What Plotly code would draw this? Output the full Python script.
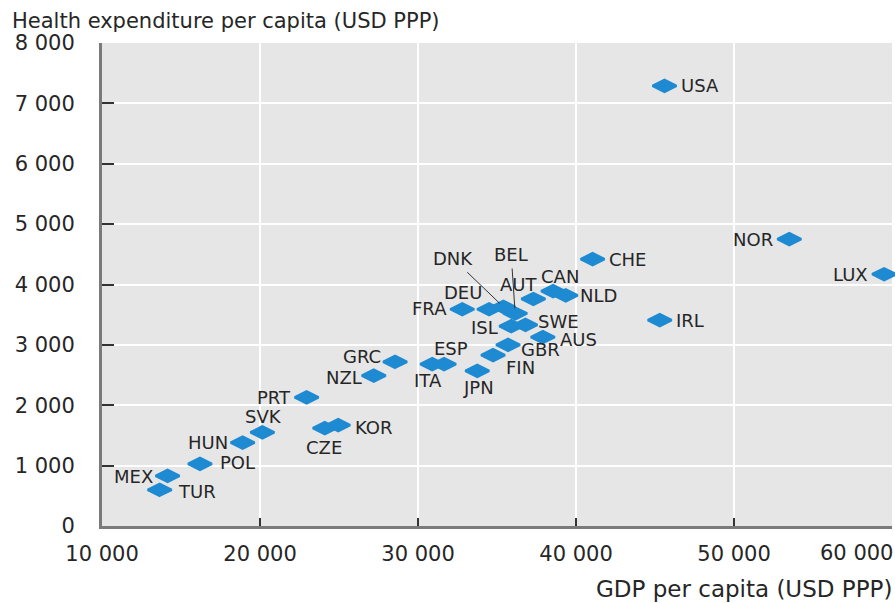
import plotly.graph_objects as go

countries = ["USA", "NOR", "LUX", "CHE", "IRL", "NLD", "CAN", "AUT", "DEU", "FRA",
             "DNK", "BEL", "ISL", "SWE", "AUS", "GBR", "FIN", "JPN", "ESP", "ITA",
             "GRC", "NZL", "PRT", "SVK", "HUN", "POL", "MEX", "TUR", "CZE", "KOR"]
gdp_per_capita = [45600, 53500, 59500, 41050, 45300, 39350, 38550, 37300, 34500, 32800,
                  35400, 36150, 35900, 36800, 37900, 35700, 34750, 33750, 31650, 30900,
                  28550, 27200, 22950, 20150, 18900, 16200, 14150, 13650, 24100, 24950]
health_per_capita = [7290, 4750, 4170, 4420, 3410, 3820, 3890, 3760, 3590, 3590,
                     3630, 3520, 3310, 3330, 3130, 3000, 2830, 2570, 2680, 2680,
                     2720, 2490, 2130, 1550, 1380, 1030, 830, 600, 1620, 1670]

x_ticks = [10000, 20000, 30000, 40000, 50000, 60000]
x_tick_labels = ["10 000", "20 000", "30 000", "40 000", "50 000", "60 000"]
y_ticks = [0, 1000, 2000, 3000, 4000, 5000, 6000, 7000, 8000]
y_tick_labels = ["0", "1 000", "2 000", "3 000", "4 000", "5 000", "6 000", "7 000", "8 000"]

y_title = "Health expenditure per capita (USD PPP)"
x_title = "GDP per capita (USD PPP)"

# label placement: (anchor, xshift, yshift) in pixels
label_place = {
    "USA": ("left", 15, 0), "NOR": ("right", -14, 0), "LUX": ("right", -14, 0),
    "CHE": ("left", 14, 0), "IRL": ("left", 14, 0), "NLD": ("left", 12, 0),
    "CAN": ("center", 7, 15), "AUT": ("center", -15, 14), "DEU": ("center", -26, 17),
    "FRA": ("right", -13, 1), "ISL": ("right", -11, -1), "SWE": ("left", 11, 3),
    "AUS": ("left", 15, -2), "GBR": ("left", 11, -5), "FIN": ("left", 11, -12),
    "JPN": ("center", 1, -17), "ESP": ("center", 7, 16), "ITA": ("center", -4, -16),
    "GRC": ("right", -12, 5), "NZL": ("right", -10, -2), "PRT": ("right", -14, 0),
    "SVK": ("center", 1, 16), "HUN": ("right", -13, 0), "POL": ("left", 18, 1),
    "MEX": ("right", -13, -1), "TUR": ("left", 16, -2), "CZE": ("center", -1, -19),
    "KOR": ("left", 15, -2),
}
leader_place = {"DNK": (-50, -48), "BEL": (-4, -59)}

blue = "#1e8ad2"
txt = "#262626"
font_family = "DejaVu Sans"
label_size = 18

fig = go.Figure()
fig.add_trace(go.Scatter(
    x=gdp_per_capita, y=health_per_capita, mode="markers",
    marker=dict(symbol="diamond-wide", size=17, color=blue,
                line=dict(color=blue, width=2.5)),
    hoverinfo="text", text=countries, showlegend=False, cliponaxis=False,
))

annotations = []
for c, gx, hy in zip(countries, gdp_per_capita, health_per_capita):
    if c in leader_place:
        ax, ay = leader_place[c]
        annotations.append(dict(
            x=gx, y=hy, xref="x", yref="y", text=c, showarrow=True,
            arrowhead=0, arrowwidth=1, arrowcolor="#333333", ax=ax, ay=ay,
            standoff=5, startstandoff=2,
            font=dict(family=font_family, size=label_size, color=txt)))
    else:
        anchor, xs, ys = label_place[c]
        annotations.append(dict(
            x=gx, y=hy, xref="x", yref="y", text=c, showarrow=False,
            xanchor=anchor, yanchor="middle", xshift=xs, yshift=ys,
            font=dict(family=font_family, size=label_size, color=txt)))

annotations.append(dict(
    x=-(102 - 10) / 790, y=1 + (43 - 21) / 483, xref="paper", yref="paper",
    text=y_title, showarrow=False, xanchor="left", yanchor="middle",
    font=dict(family=font_family, size=21, color=txt)))
annotations.append(dict(
    x=1 + 2 / 790, y=-(589 - 526) / 483, xref="paper", yref="paper",
    text=x_title, showarrow=False, xanchor="right", yanchor="middle",
    font=dict(family=font_family, size=23, color=txt)))
# last x tick label is right-aligned at the edge of the chart
annotations.append(dict(
    x=x_ticks[-1], y=0, xref="x", yref="paper", yshift=-27,
    text=x_tick_labels[-1], showarrow=False, xanchor="right", yanchor="middle",
    xshift=3, font=dict(family=font_family, size=21, color=txt)))

fig.update_layout(
    width=895, height=603,
    margin=dict(l=102, r=3, t=43, b=77),
    paper_bgcolor="white", plot_bgcolor="#e6e6e6",
    annotations=annotations,
    xaxis=dict(range=[10000, 60000], tickvals=x_ticks,
               ticktext=x_tick_labels[:-1] + [""],
               showgrid=True, gridcolor="white", gridwidth=2,
               zeroline=False, showline=True, linecolor="#7a7a7a", linewidth=3,
               ticks="inside", ticklen=8, tickwidth=2, tickcolor="#333333",
               ticklabelstandoff=7,
               tickfont=dict(family=font_family, size=21, color=txt)),
    yaxis=dict(range=[0, 8000], tickvals=y_ticks, ticktext=y_tick_labels,
               showgrid=True, gridcolor="white", gridwidth=2,
               zeroline=False, showline=True, linecolor="#7a7a7a", linewidth=3,
               ticks="inside", ticklen=12, tickwidth=2, tickcolor="#333333",
               ticklabelstandoff=20,
               tickfont=dict(family=font_family, size=21, color=txt)),
)

fig.write_html("out.html", config={"displayModeBar": False},
               post_script="document.body.style.margin='0';document.body.style.overflow='hidden';")
